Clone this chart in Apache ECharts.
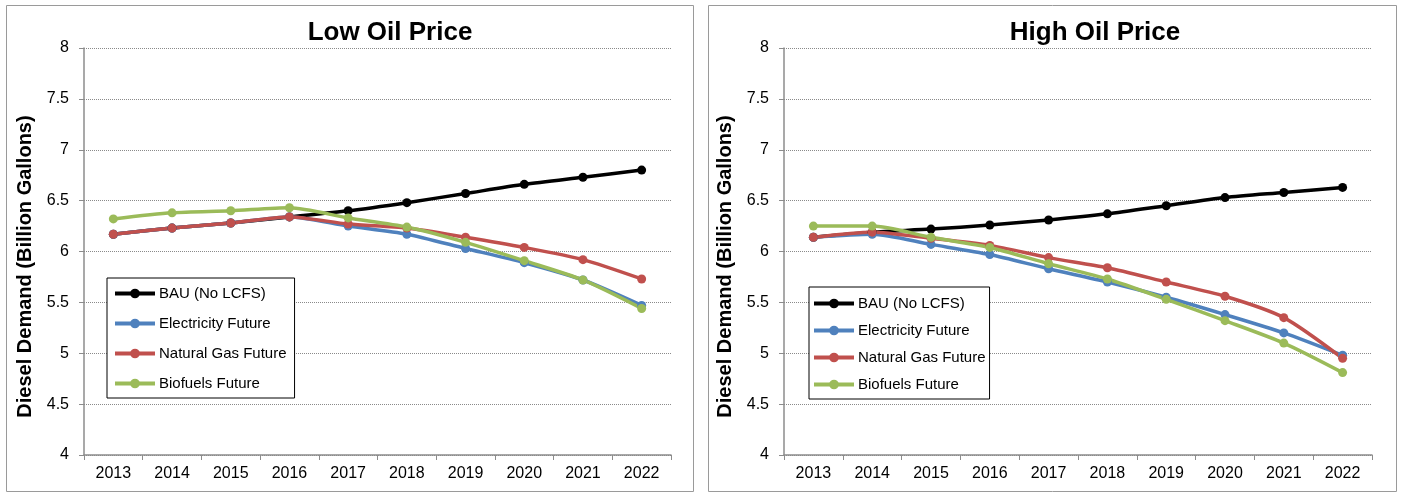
<!DOCTYPE html>
<html>
<head>
<meta charset="utf-8">
<script src="https://cdn.jsdelivr.net/npm/echarts@6/dist/echarts.min.js"></script>
<style>
  html, body { margin: 0; padding: 0; background: #fff; }
  #main { width: 1401px; height: 494px; }
</style>
</head>
<body>
<div id="main"></div>
<script>
  const years = ['2013', '2014', '2015', '2016', '2017', '2018', '2019', '2020', '2021', '2022']
  const seriesNames = ['BAU (No LCFS)', 'Electricity Future', 'Natural Gas Future', 'Biofuels Future']
  const seriesColors = ['#000000', '#4F81BD', '#C0504D', '#9BBB59']

  // Low Oil Price
  const lowBau = [6.17, 6.23, 6.28, 6.34, 6.40, 6.48, 6.57, 6.66, 6.73, 6.80]
  const lowElec = [6.17, 6.23, 6.28, 6.34, 6.25, 6.17, 6.03, 5.89, 5.72, 5.47]
  const lowGas = [6.17, 6.23, 6.28, 6.34, 6.27, 6.23, 6.14, 6.04, 5.92, 5.73]
  const lowBio = [6.32, 6.38, 6.40, 6.43, 6.33, 6.24, 6.09, 5.91, 5.72, 5.44]

  // High Oil Price
  const highBau = [6.14, 6.19, 6.22, 6.26, 6.31, 6.37, 6.45, 6.53, 6.58, 6.63]
  const highElec = [6.14, 6.17, 6.07, 5.97, 5.83, 5.70, 5.55, 5.38, 5.20, 4.98]
  const highGas = [6.14, 6.19, 6.13, 6.06, 5.94, 5.84, 5.70, 5.56, 5.35, 4.95]
  const highBio = [6.25, 6.25, 6.14, 6.04, 5.88, 5.73, 5.53, 5.32, 5.10, 4.81]

  const font = '"Liberation Sans", Arial, sans-serif'

  function makeSeries (dataList, idx) {
    return dataList.map((data, i) => ({
      name: seriesNames[i],
      type: 'line',
      xAxisIndex: idx,
      yAxisIndex: idx,
      smooth: 0.25,
      symbol: 'circle',
      symbolSize: 9,
      color: seriesColors[i],
      lineStyle: { width: 3.5 },
      data: data
    }))
  }

  function makeX (idx) {
    return {
      type: 'category',
      gridIndex: idx,
      boundaryGap: true,
      data: years,
      axisLine: { show: true, lineStyle: { color: '#8c8c8c', width: 1.5 } },
      axisTick: { show: true, length: 5, lineStyle: { color: '#8c8c8c' } },
      axisLabel: { fontSize: 16, color: '#000', margin: 11, fontFamily: font }
    }
  }

  function makeY (idx) {
    return {
      type: 'value',
      gridIndex: idx,
      min: 4,
      max: 8,
      interval: 0.5,
      name: 'Diesel Demand (Billion Gallons)',
      nameLocation: 'middle',
      nameGap: 49,
      nameTextStyle: { fontSize: 20, fontWeight: 'bold', color: '#000', fontFamily: font,
        padding: [0, 30, 0, 0] },
      axisLine: { show: true, lineStyle: { color: '#8c8c8c', width: 1.5 } },
      axisTick: { show: true, length: 5, lineStyle: { color: '#8c8c8c' } },
      axisLabel: { fontSize: 16, color: '#000', margin: 15, fontFamily: font },
      splitLine: { show: true, lineStyle: { color: '#8a8a8a', type: 'dotted', width: 1 } }
    }
  }

  function makeLegend (left, top, gap, pad) {
    return {
      orient: 'vertical',
      left: left,
      top: top,
      data: seriesNames,
      itemWidth: 40,
      itemHeight: 12,
      itemGap: gap,
      padding: pad,
      borderColor: '#000',
      borderWidth: 1,
      backgroundColor: '#fff',
      lineStyle: { width: 4 },
      textStyle: { fontSize: 15, color: '#000', fontFamily: font, padding: [0, 0, 0, -1] }
    }
  }

  const myChart = echarts.init(document.getElementById('main'))
  const option = {
    animation: false,
    backgroundColor: '#fff',
    title: [
      { text: 'Low Oil Price', left: 385, top: 15, textAlign: 'center',
        textStyle: { fontSize: 26, fontWeight: 'bold', color: '#000', fontFamily: font } },
      { text: 'High Oil Price', left: 1090, top: 15, textAlign: 'center',
        textStyle: { fontSize: 26, fontWeight: 'bold', color: '#000', fontFamily: font } }
    ],
    graphic: [
      { type: 'rect', shape: { x: 6.5, y: 5.5, width: 687, height: 486 },
        style: { fill: 'none', stroke: '#9a9a9a', lineWidth: 1 }, silent: true, z: -1 },
      { type: 'rect', shape: { x: 708.5, y: 5.5, width: 688, height: 486 },
        style: { fill: 'none', stroke: '#9a9a9a', lineWidth: 1 }, silent: true, z: -1 }
    ],
    legend: [
      makeLegend(107, 278, 15, [8, 8, 7, 6]),
      makeLegend(809, 287, 12, [9, 4, 7, 3])
    ],
    grid: [
      { left: 84, top: 48, width: 587, height: 407 },
      { left: 784, top: 48, width: 588, height: 407 }
    ],
    xAxis: [makeX(0), makeX(1)],
    yAxis: [makeY(0), makeY(1)],
    series: makeSeries([lowBau, lowElec, lowGas, lowBio], 0)
      .concat(makeSeries([highBau, highElec, highGas, highBio], 1))
  }
  myChart.setOption(option)
</script>
</body>
</html>
